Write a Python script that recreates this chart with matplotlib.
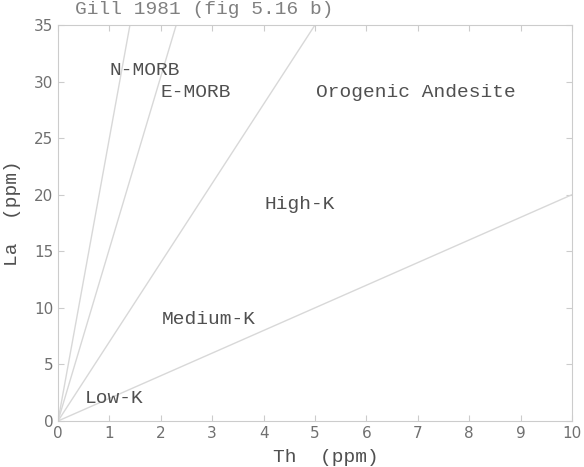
import matplotlib
matplotlib.use("Agg")
import matplotlib.pyplot as plt

# boundary lines from the origin (end points)
line_x = [1.4, 2.3, 5.0, 10.0]
line_y = [35, 35, 35, 20]

# field labels
label_text = ["N-MORB", "E-MORB", "Orogenic Andesite", "High-K", "Medium-K", "Low-K"]
label_x = [1.69, 2.68, 6.97, 4.7, 2.94, 1.1]
label_y = [31.0, 29.0, 29.0, 19.1, 9.0, 2.0]

x_ticks = list(range(0, 11))
y_ticks = list(range(0, 36, 5))

mono = "Liberation Mono"
W, H = 584, 467

fig = plt.figure(figsize=(W / 100, H / 100), dpi=100)
ax = fig.add_axes([0.0993, 0.0985, 0.8801, 0.848])

for xe, ye in zip(line_x, line_y):
    ax.plot([0, xe], [0, ye], color="#d8d8d8", lw=1.0)

for t, x, y in zip(label_text, label_x, label_y):
    ax.text(x, y, t, family=mono, fontsize=14, color="#505050",
            ha="center", va="center")

ax.set_xlim(0, 10)
ax.set_ylim(0, 35)
ax.set_xticks(x_ticks)
ax.set_yticks(y_ticks)
ax.tick_params(direction="in", top=True, right=True, length=4,
               color="#cccccc", labelcolor="#707070", labelsize=11)
for s in ax.spines.values():
    s.set_color("#cccccc")

# axis titles placed in pixel coordinates of the picture
fig.text(326 / W, 1 - 458 / H, "Th  (ppm)", family=mono, fontsize=14,
         color="#505050", ha="center", va="center")
fig.text(13 / W, 1 - 213 / H, "La  (ppm)", family=mono, fontsize=14,
         color="#505050", ha="center", va="center", rotation=90)
fig.text(204 / W, 1 - 10 / H, "Gill 1981 (fig 5.16 b)", family=mono,
         fontsize=14, color="#808080", ha="center", va="center")

fig.savefig("out.png", dpi=100)
